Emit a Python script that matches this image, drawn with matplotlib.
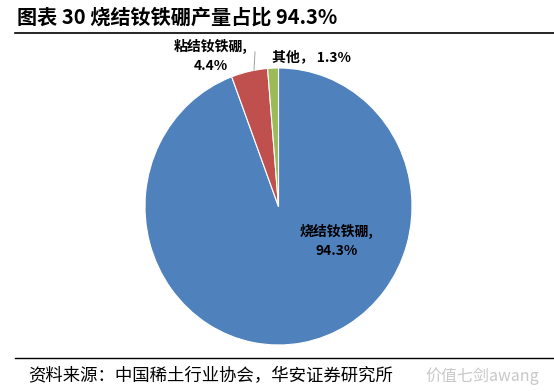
import matplotlib.pyplot as plt

plt.rcParams['font.family'] = ['Noto Sans CJK SC', 'DejaVu Sans']

# data
categories = ["烧结钕铁硼", "粘结钕铁硼", "其他"]
shares = [94.3, 4.4, 1.3]
colors = ["#4F81BD", "#C0504D", "#9BBB59"]

W, H = 554, 391
fig = plt.figure(figsize=(W / 100, H / 100), dpi=100)

# title and rule lines
fig.text(17 / W, 1 - 17 / H, "图表 30 烧结钕铁硼产量占比 94.3%", fontsize=14.5,
         fontweight="bold", va="center", ha="left")
fig.add_artist(plt.Line2D([15 / W, 1], [1 - 33 / H, 1 - 33 / H], color="black", lw=1.2))
fig.add_artist(plt.Line2D([15 / W, 1], [1 - 358 / H, 1 - 358 / H], color="black", lw=1.0))
fig.text(28 / W, 1 - 376 / H, "资料来源：中国稀土行业协会，华安证券研究所", fontsize=12.5,
         va="center", ha="left")
fig.text(425 / W, 1 - 376 / H, "价值七剑awang", fontsize=11.5, color="#c8c8c8",
         va="center", ha="left")

# pie
cx, cy, rx, ry = 278.5, 206.5, 133.5, 138.5
ax = fig.add_axes([(cx - rx) / W, 1 - (cy + ry) / H, 2 * rx / W, 2 * ry / H])
ax.pie(shares, colors=colors, startangle=90, counterclock=False,
       wedgeprops=dict(edgecolor="white", linewidth=0.8))
ax.set_xlim(-1, 1)
ax.set_ylim(-1, 1)
ax.set_aspect("auto")
ax.axis("off")

lab = dict(fontsize=10, fontweight="bold", ha="center", va="center", linespacing=1.45)
fig.text(211 / W, 1 - 56 / H, f"{categories[1]},\n{shares[1]}%", **lab)
fig.text(312 / W, 1 - 57 / H, f"{categories[2]}， {shares[2]}%", **lab)
fig.text(337 / W, 1 - 241 / H, f"{categories[0]},\n{shares[0]}%", **lab)
fig.add_artist(plt.Line2D([255 / W, 254 / W], [1 - 52 / H, 1 - 70 / H], color="#a0a0a0", lw=0.7))

fig.savefig("out.png", dpi=100)
